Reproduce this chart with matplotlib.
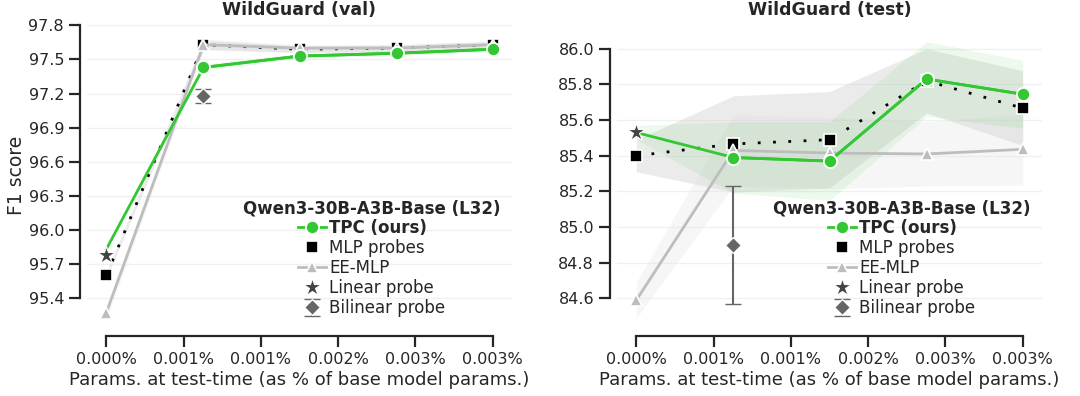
import matplotlib
matplotlib.use("Agg")
import matplotlib.pyplot as plt
import numpy as np

# ---------------- data ----------------
params_pct = [0.0, 0.00083, 0.00165, 0.00248, 0.0033]
xtick_labels = ["0.000%", "0.001%", "0.001%", "0.002%", "0.003%", "0.003%"]

titles = ["WildGuard (val)", "WildGuard (test)"]
legend_title = "Qwen3-30B-A3B-Base (L32)"

# WildGuard (val)
val_tpc = [95.83, 97.43, 97.53, 97.555, 97.59]
val_tpc_sd = [0.01, 0.03, 0.02, 0.02, 0.02]
val_mlp = [95.60, 97.63, 97.59, 97.60, 97.63]
val_mlp_sd = [0.03, 0.04, 0.03, 0.03, 0.03]
val_ee = [95.27, 97.63, 97.60, 97.60, 97.63]
val_ee_sd = [0.06, 0.05, 0.03, 0.03, 0.03]
val_linear = 95.78
val_bilinear = 97.18
val_bilinear_err = 0.06
val_yticks = [95.4, 95.7, 96.0, 96.3, 96.6, 96.9, 97.2, 97.5, 97.8]
val_ylim = (95.13, 97.83)

# WildGuard (test)
test_tpc = [85.53, 85.39, 85.37, 85.83, 85.745]
test_tpc_sd = [0.04, 0.20, 0.22, 0.21, 0.19]
test_mlp = [85.40, 85.466, 85.49, 85.82, 85.667]
test_mlp_sd = [0.09, 0.27, 0.27, 0.18, 0.21]
test_ee = [84.59, 85.43, 85.415, 85.41, 85.436]
test_ee_sd = [0.10, 0.20, 0.20, 0.18, 0.20]
test_linear = 85.535
test_bilinear = 84.90
test_bilinear_err = 0.33
test_yticks = [84.6, 84.8, 85.0, 85.2, 85.4, 85.6, 85.8, 86.0]
test_ylim = (84.43, 86.15)

# ---------------- style ----------------
GREEN = "#33c733"
EE_GRAY = "#bdbdbd"
STAR = "#444444"
DIAM = "#666666"
SPINE = "#262626"

plt.rcParams["font.family"] = ["DejaVu Sans"]
plt.rcParams["axes.edgecolor"] = SPINE
plt.rcParams["xtick.color"] = SPINE
plt.rcParams["ytick.color"] = SPINE
plt.rcParams["text.color"] = SPINE
plt.rcParams["axes.labelcolor"] = SPINE

W, H = 1080, 396
fig = plt.figure(figsize=(W / 100, H / 100), dpi=100)
ax_left = fig.add_axes([87 / W, 1 - 328.7 / H, 425 / W, (328.7 - 22) / H])
ax_right = fig.add_axes([617 / W, 1 - 328.7 / H, 425 / W, (328.7 - 22) / H])

panels = [
    (ax_left, val_tpc, val_tpc_sd, val_mlp, val_mlp_sd, val_ee, val_ee_sd,
     val_linear, val_bilinear, val_bilinear_err, val_yticks, val_ylim),
    (ax_right, test_tpc, test_tpc_sd, test_mlp, test_mlp_sd, test_ee, test_ee_sd,
     test_linear, test_bilinear, test_bilinear_err, test_yticks, test_ylim),
]

x = np.array(params_pct)
xmax = x.max()
xticks = np.linspace(0, xmax, 6)

for i, (ax, tpc, tpc_sd, mlp, mlp_sd, ee, ee_sd, lin, bil, bil_err, yticks, ylim) in enumerate(panels):
    tpc = np.array(tpc); tpc_sd = np.array(tpc_sd)
    mlp = np.array(mlp); mlp_sd = np.array(mlp_sd)
    ee = np.array(ee); ee_sd = np.array(ee_sd)

    # grid
    for yt in yticks:
        ax.axhline(yt, color="#f0f0f0", lw=1.0, zorder=0)

    # bands
    ax.fill_between(x, ee - ee_sd, ee + ee_sd, color="#e6e6e6", alpha=0.35, lw=0, zorder=1)
    ax.fill_between(x, mlp - mlp_sd, mlp + mlp_sd, color="#cfcfcf", alpha=0.4, lw=0, zorder=1)
    ax.fill_between(x, tpc - tpc_sd, tpc + tpc_sd, color=GREEN, alpha=0.09, lw=0, zorder=1)

    # MLP probes: dotted line + squares
    ax.plot(x, mlp, color="black", lw=2, dashes=(1, 4.5), zorder=3)
    h_mlp, = ax.plot(x, mlp, ls="none", marker="s", ms=8.5, mfc="black",
                     mec="white", mew=1.2, zorder=4, label="MLP probes")
    # EE-MLP
    h_ee, = ax.plot(x, ee, color=EE_GRAY, lw=2, marker="^", ms=9, mfc=EE_GRAY,
                    mec="white", mew=1.2, zorder=5, label="EE-MLP")
    # TPC
    ax.plot(x, tpc, color=GREEN, lw=2, zorder=6)
    h_tpc, = ax.plot(x[1:], tpc[1:], color=GREEN, lw=2, marker="o", ms=9.5,
                     mfc=GREEN, mec="white", mew=1.3, zorder=7, label="TPC (ours)")
    # Linear probe
    h_lin, = ax.plot([x[0]], [lin], ls="none", marker="*", ms=13.5, mfc=STAR,
                     mec="white", mew=0.8, zorder=8, label="Linear probe")
    # Bilinear probe
    h_bil = ax.errorbar([x[1]], [bil], yerr=[bil_err], fmt="D", ms=8.5, color=DIAM,
                        mfc=DIAM, mec="white", mew=1.0, ecolor=DIAM, elinewidth=1.5,
                        capsize=6, capthick=1.5, zorder=8, label="Bilinear probe")

    # axes
    pad = 0.05 * xmax
    ax.set_xlim(-pad, xmax + pad)
    ax.set_ylim(*ylim)
    ax.set_xticks(xticks)
    ax.set_xticklabels(xtick_labels)
    ax.set_yticks(yticks)
    ax.set_yticklabels([f"{v:.1f}" for v in yticks])
    for s in ["top", "right"]:
        ax.spines[s].set_visible(False)
    ax.spines["left"].set_position(("outward", 5))
    ax.spines["bottom"].set_position(("outward", 5))
    ax.spines["left"].set_bounds(yticks[0], yticks[-1])
    ax.spines["bottom"].set_bounds(xticks[0], xticks[-1])
    for s in ["left", "bottom"]:
        ax.spines[s].set_linewidth(1.6)
    ax.tick_params(axis="both", length=8, width=1.6, labelsize=11.5)
    ax.set_xlabel("Params. at test-time (as % of base model params.)", fontsize=13, labelpad=3)
    ax.set_title(titles[i], fontsize=12.5, fontweight="bold", pad=5)
    if i == 0:
        ax.set_ylabel("F1 score", fontsize=13.5, labelpad=2)

    leg = ax.legend(handles=[h_tpc, h_mlp, h_ee, h_lin, h_bil],
                    labels=["TPC (ours)", "MLP probes", "EE-MLP", "Linear probe", "Bilinear probe"],
                    title=legend_title, loc="lower right", frameon=False,
                    fontsize=12, title_fontproperties={"weight": "bold", "size": 12},
                    handlelength=1.7, handletextpad=0.2, labelspacing=0.12,
                    borderaxespad=0.4, borderpad=0.3)
    leg.get_texts()[0].set_fontweight("bold")

fig.savefig("out.png", dpi=100)
